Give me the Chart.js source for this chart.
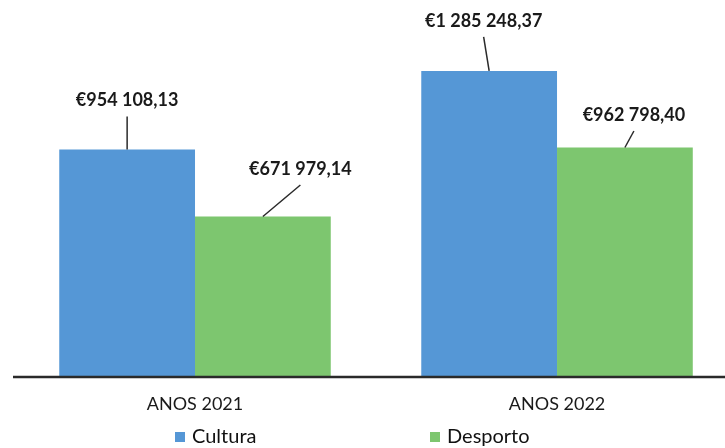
<!DOCTYPE html>
<html><head><meta charset="utf-8">
<script src="https://cdn.jsdelivr.net/npm/chart.js@4/dist/chart.umd.min.js"></script>
<style>html,body{margin:0;padding:0;background:#fff;overflow:hidden}#wrap{position:relative;width:725px;height:448px}</style>
</head><body><div id="wrap"><canvas id="c" width="725" height="448"></canvas></div>
<script>
const categories = ['ANOS 2021', 'ANOS 2022'];
const seriesNames = ['Cultura', 'Desporto'];
const cultura = [954108.13, 1285248.37];
const desporto = [671979.14, 962798.40];
const colors = ['#5597d6', '#7dc66f'];

function euro(v) {
  const parts = v.toFixed(2).split('.');
  return '\u20AC' + parts[0].replace(/\B(?=(\d{3})+(?!\d))/g, ' ') + ',' + parts[1];
}

const decor = {
  id: 'decor',
  afterDatasetsDraw(chart, args, opts) {
    const ctx = chart.ctx, area = chart.chartArea, xs = chart.scales.x;
    ctx.save();
    // baseline
    ctx.strokeStyle = '#2a2a2a'; ctx.lineWidth = 2.5;
    ctx.beginPath(); ctx.moveTo(13, area.bottom + 1); ctx.lineTo(chart.width, area.bottom + 1); ctx.stroke();
    // value labels with leader lines
    ctx.font = 'bold 18px Lato';
    ctx.textAlign = 'center'; ctx.textBaseline = 'middle'; ctx.fillStyle = '#1a1a1a';
    chart.data.datasets.forEach((ds, di) => {
      const meta = chart.getDatasetMeta(di);
      meta.data.forEach((bar, i) => {
        const off = opts.offsets[di][i];
        const lx = bar.x + off[0], ly = bar.y + off[1];
        ctx.fillText(euro(ds.data[i].y), lx, ly);
        ctx.strokeStyle = '#2a2a2a'; ctx.lineWidth = 1.5;
        ctx.beginPath(); ctx.moveTo(lx, ly + 16); ctx.lineTo(bar.x, bar.y); ctx.stroke();
      });
    });
    // category labels, centred under each group
    ctx.font = '18px Lato'; ctx.fillStyle = '#1a1a1a';
    categories.forEach((c, i) => ctx.fillText(c, xs.getPixelForValue(i), opts.catY));
    // legend
    ctx.font = '20px Lato'; ctx.textAlign = 'left';
    chart.data.datasets.forEach((ds, di) => {
      const x = opts.legX[di];
      ctx.fillStyle = ds.backgroundColor;
      ctx.fillRect(x, opts.legY - 5, 10, 10);
      ctx.fillStyle = '#111';
      ctx.fillText(ds.label, x + 17, opts.legY);
    });
    ctx.restore();
  }
};

new Chart(document.getElementById('c'), {
  type: 'bar',
  data: {
    datasets: [
      { label: seriesNames[0], data: cultura.map((v, i) => ({ x: i, y: v })), backgroundColor: colors[0] },
      { label: seriesNames[1], data: desporto.map((v, i) => ({ x: i, y: v })), backgroundColor: colors[1] }
    ]
  },
  options: {
    responsive: false,
    animation: false,
    layout: { padding: { left: 14, right: 0, top: 20, bottom: 72 } },
    datasets: { bar: { categoryPercentage: 0.75, barPercentage: 1 } },
    scales: {
      x: {
        type: 'linear', display: false, offset: false, min: -0.5, max: 1.464,
        grid: { offset: false },
        afterBuildTicks: s => { s.ticks = categories.map((_, i) => ({ value: i })); }
      },
      y: { display: false, min: 0, max: 1500000 }
    },
    plugins: {
      legend: { display: false },
      tooltip: { enabled: false },
      decor: {
        offsets: [[[0, -49], [-5.5, -50]], [[37.5, -47.5], [9, -32.5]]],
        catY: 404,
        legX: [175, 430], legY: 437
      }
    }
  },
  plugins: [decor]
});
</script></body></html>
